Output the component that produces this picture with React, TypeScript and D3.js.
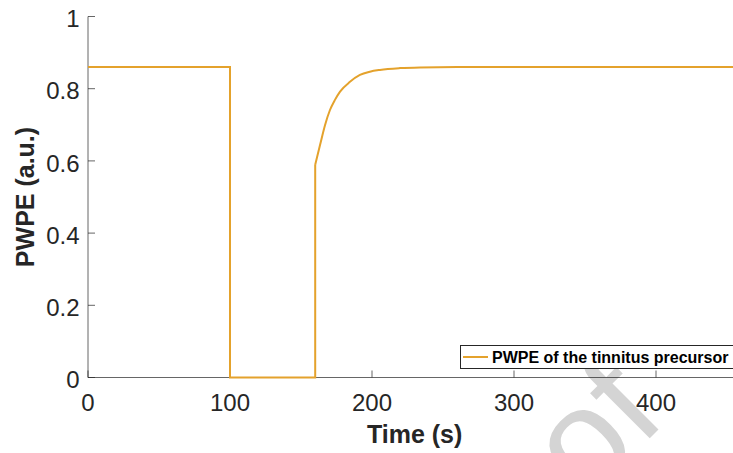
import React from "react";
import * as d3 from "d3";

const stepTime = [0, 100, 100, 160, 160];
const stepValue = [0.86, 0.86, 0, 0, 0.589];
const recoveryTime = [160, 163.4, 166.9, 170.4, 173.9, 177.5, 184.5, 191.5, 198.5, 205.6, 219.7, 233.8, 260, 300, 400, 460];
const recoveryValue = [0.589, 0.644, 0.699, 0.741, 0.769, 0.792, 0.819, 0.838, 0.847, 0.852, 0.857, 0.859, 0.86, 0.86, 0.86, 0.86];
const xTicks = [0, 100, 200, 300, 400];
const yTicks = [0, 0.2, 0.4, 0.6, 0.8, 1];
const yTickLabels = ["0", "0.2", "0.4", "0.6", "0.8", "1"];
const legendLabel = "PWPE of the tinnitus precursor";
const xLabel = "Time (s)";
const yLabel = "PWPE (a.u.)";
const watermark = "Proof";

const W = 733;
const H = 453;
const FONT = "'Liberation Sans', Arial, Helvetica, sans-serif";
const LINE = "#E4A22C";
const AX = "#262626";

export default function App() {
  const x = d3.scaleLinear().domain([0, 460]).range([88, 88 + 460 * 1.42]);
  const y = d3.scaleLinear().domain([0, 1]).range([377.5, 16.5]);
  const line = d3
    .line<[number, number]>()
    .x((d) => x(d[0]))
    .y((d) => y(d[1]));
  const stepPts: [number, number][] = stepTime.map((t, i) => [t, stepValue[i]]);
  const recPts: [number, number][] = recoveryTime.map((t, i) => [t, recoveryValue[i]]);
  const curve = line.curve(d3.curveMonotoneX);
  const stepPath = d3
    .line<[number, number]>()
    .x((d) => x(d[0]))
    .y((d) => y(d[1]))(stepPts);
  const recPath = curve(recPts);
  const [x0, x1] = x.range();
  const [yb, yt] = y.range();

  return (
    <svg
      width={W}
      height={H}
      style={{ position: "fixed", left: 0, top: 0, background: "#fff", overflow: "hidden" }}
      fontFamily={FONT}
    >
      <rect x={0} y={0} width={W} height={H} fill="#fff" />
      {/* watermark */}
      <text
        transform="translate(668.6,419.4) rotate(-45)"
        textAnchor="end"
        fontSize={140}
        fill="#d4d4d4"
      >
        {watermark}
      </text>
      {/* axes */}
      <line x1={x0} x2={x1} y1={yb} y2={yb} stroke={AX} strokeWidth={1} opacity={0.7} />
      <line x1={x0} x2={x0} y1={yb} y2={yt} stroke={AX} strokeWidth={1} opacity={0.7} />
      {xTicks.map((t) => (
        <g key={"xt" + t}>
          <line x1={x(t)} x2={x(t)} y1={yb} y2={yb - 7} stroke={AX} strokeWidth={1} opacity={0.7} />
          <text x={x(t)} y={yb + 33} textAnchor="middle" fontSize={24} fill={AX}>
            {t}
          </text>
        </g>
      ))}
      {yTicks.map((t, i) => (
        <g key={"yt" + t}>
          <line x1={x0} x2={x0 + 7} y1={y(t)} y2={y(t)} stroke={AX} strokeWidth={1} opacity={0.7} />
          <text x={79.5} y={y(t) + 10.6} textAnchor="end" fontSize={24} fill={AX}>
            {yTickLabels[i]}
          </text>
        </g>
      ))}
      {/* data */}
      <path d={stepPath || ""} fill="none" stroke={LINE} strokeWidth={2} strokeLinejoin="miter" />
      <path d={recPath || ""} fill="none" stroke={LINE} strokeWidth={2} />
      {/* labels */}
      <text x={(x0 + x1) / 2} y={443} textAnchor="middle" fontSize={25} fontWeight="bold" fill={AX}>
        {xLabel}
      </text>
      <text
        transform={`translate(33.5,${(yb + yt) / 2}) rotate(-90)`}
        textAnchor="middle"
        fontSize={25}
        fontWeight="bold"
        fill={AX}
      >
        {yLabel}
      </text>
      {/* legend */}
      <rect x={460.5} y={345.5} width={280} height={23} fill="#fff" stroke={AX} strokeWidth={1} />
      <line x1={463} x2={488} y1={357} y2={357} stroke={LINE} strokeWidth={2} />
      <text x={492} y={362.8} fontSize={16} fontWeight="bold" fill="#000">
        {legendLabel}
      </text>
    </svg>
  );
}
